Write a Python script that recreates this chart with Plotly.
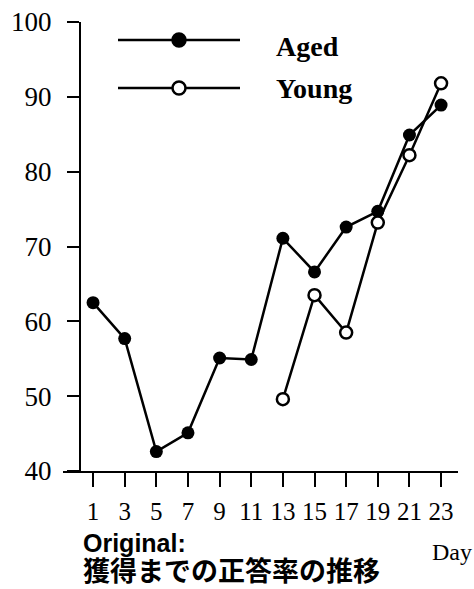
import plotly.graph_objects as go

days = [1, 3, 5, 7, 9, 11, 13, 15, 17, 19, 21, 23]
aged = [62.5, 57.7, 42.6, 45.1, 55.1, 54.9, 71.1, 66.6, 72.6, 74.7, 84.9, 88.9]
young_days = [13, 15, 17, 19, 21, 23]
young = [49.6, 63.5, 58.5, 73.2, 82.2, 91.8]
y_ticks = [40, 50, 60, 70, 80, 90, 100]
x_ticks = days

W, H = 474, 589
L, R, T, B = 63, 458, 22, 471  # plot area in pixels


def px(x):
    return (x - L) / (R - L)


def py(y):
    return (B - y) / (B - T)


fig = go.Figure()
fig.add_trace(go.Scatter(
    x=days, y=aged, mode="lines+markers", name="Aged",
    line=dict(color="black", width=2.5),
    marker=dict(symbol="circle", size=13, color="black"),
    showlegend=False,
))
fig.add_trace(go.Scatter(
    x=young_days, y=young, mode="lines+markers", name="Young",
    line=dict(color="black", width=2.5),
    marker=dict(symbol="circle", size=12, color="white",
                line=dict(color="black", width=2.5)),
    showlegend=False,
))

serif = "Liberation Serif, Times New Roman, serif"

fig.update_layout(
    width=W, height=H,
    margin=dict(l=L, r=W - R, t=T, b=H - B, autoexpand=False),
    plot_bgcolor="white", paper_bgcolor="white",
    font=dict(family=serif, color="black", size=24),
    xaxis=dict(
        range=[-0.9, 24.07],
        tickmode="array", tickvals=x_ticks, ticktext=[str(v) for v in x_ticks],
        ticks="outside", ticklen=14, tickwidth=2, tickcolor="black",
        showline=True, linecolor="black", linewidth=2,
        showgrid=False, zeroline=False,
        tickfont=dict(family=serif, size=25),
        ticklabelstandoff=3,
        automargin=False,
    ),
    yaxis=dict(
        range=[40, 100],
        anchor="free", position=px(80),
        tickmode="array", tickvals=y_ticks,
        ticks="outside", ticklen=12, tickwidth=2, tickcolor="black",
        showline=True, linecolor="black", linewidth=2,
        showgrid=False, zeroline=False,
        tickfont=dict(family=serif, size=27),
        ticklabelstandoff=10,
        automargin=False,
    ),
)

# Legend drawn manually
leg = [("Aged", 40, "black", 46), ("Young", 88, "white", 88)]
for name, ly, fill, ty in leg:
    fig.add_shape(type="line", xref="paper", yref="paper",
                  x0=px(118), x1=px(240), y0=py(ly), y1=py(ly),
                  line=dict(color="black", width=2.5))
    fig.add_shape(type="circle", xref="paper", yref="paper",
                  xsizemode="pixel", ysizemode="pixel",
                  xanchor=px(179), yanchor=py(ly),
                  x0=-6.5, x1=6.5, y0=-6.5, y1=6.5,
                  fillcolor=fill, line=dict(color="black", width=2.5))
    fig.add_annotation(text=f"<b>{name}</b>", xref="paper", yref="paper",
                       x=px(274), y=py(ty), xanchor="left", yanchor="middle",
                       showarrow=False,
                       font=dict(family=serif, size=28, color="black"))

fig.add_annotation(text="Day", xref="paper", yref="paper",
                   x=px(430), y=py(552), xanchor="left", yanchor="middle",
                   showarrow=False, font=dict(family=serif, size=24))
fig.add_annotation(
    text=("<span style='font-family:Liberation Sans, Arial, sans-serif;font-size:25px'>"
          "<b>Original:</b></span><br>"
          "<span style='font-family:Noto Sans CJK JP;font-size:27px'>"
          "<b>獲得までの正答率の推移</b></span>"),
    xref="paper", yref="paper",
    x=px(81), y=py(559), xanchor="left", yanchor="middle", align="left",
    showarrow=False,
    font=dict(family="Noto Sans CJK JP", size=22.5))

fig.write_html("out.html",
               config={"displayModeBar": False},
               post_script="document.body.style.margin='0';document.body.style.overflow='hidden';")
